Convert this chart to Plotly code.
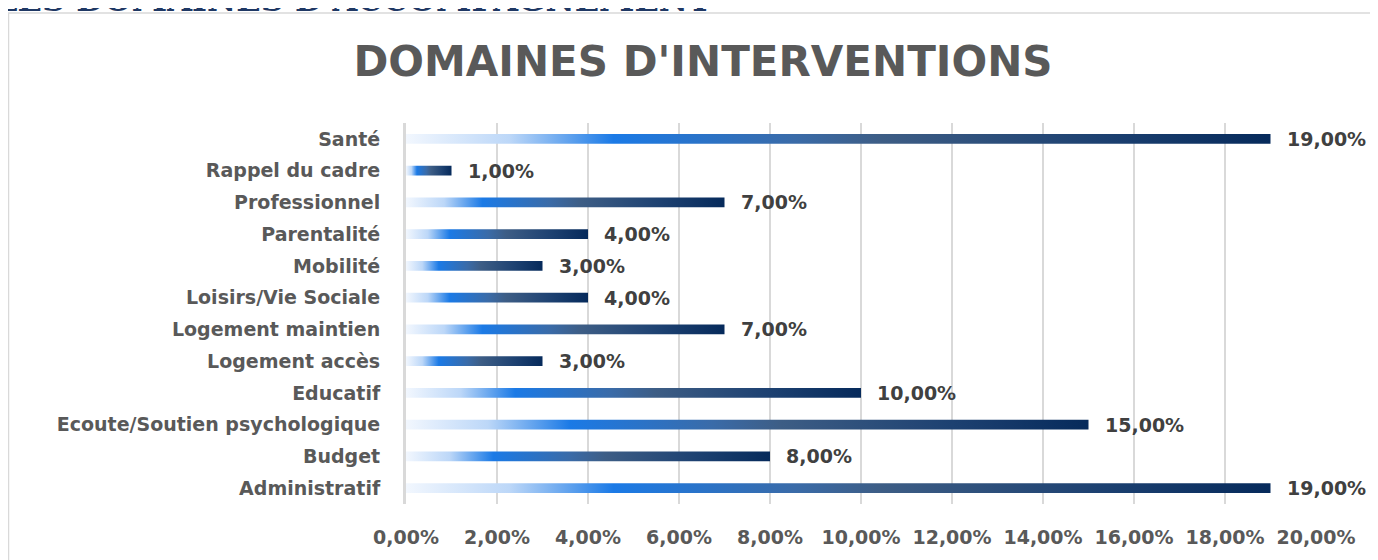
import plotly.graph_objects as go

# ---- data (bottom to top, as drawn) ----
categories = ["Administratif", "Budget", "Ecoute/Soutien psychologique", "Educatif",
              "Logement accès", "Logement maintien", "Loisirs/Vie Sociale", "Mobilité",
              "Parentalité", "Professionnel", "Rappel du cadre", "Santé"]
values = [19, 8, 15, 10, 3, 7, 4, 3, 4, 7, 1, 19]  # percent
x_ticks = [0, 2, 4, 6, 8, 10, 12, 14, 16, 18, 20]

title_text = "DOMAINES D'INTERVENTIONS"
header_text = "LES DOMAINES D'ACCOMPAGNEMENT"

# page has an 8px body margin -> figure is 8px smaller and shifted
OFF = 8
W, H = 1378 - OFF, 560 - OFF
L, R, T, B = 406 - OFF, 1378 - 1316, 123 - OFF, 560 - 506
FONT = "DejaVu Sans"
GREY = "#595959"

gradient = [[0.0, "#f2f7fe"], [0.12, "#bcd7f8"], [0.24, "#1b7ae6"],
            [0.45, "#3a6ba8"], [0.55, "#3d5d85"], [0.8, "#1d4171"], [1.0, "#062a5b"]]

fig = go.Figure()
half = 0.155
for i, (cat, v) in enumerate(zip(categories, values)):
    fig.add_trace(go.Scatter(
        x=[0, v, v, 0, 0],
        y=[i - half, i - half, i + half, i + half, i - half],
        mode="lines", fill="toself",
        line=dict(width=0),
        fillgradient=dict(type="horizontal", colorscale=gradient),
        hoverinfo="skip", showlegend=False, name=cat,
    ))
    fig.add_annotation(
        x=v, y=i, xref="x", yref="y", xanchor="left", yanchor="middle",
        xshift=14, showarrow=False,
        text=f"{v:.2f}%".replace(".", ","),
        font=dict(family=FONT, size=19, color="#404040", weight="bold"),
    )

pw = W - L - R
ph = H - T - B

def px_x(p):
    return (p - OFF - L) / pw

def px_y(p):
    return (H - B - (p - OFF)) / ph

# chart frame (light border, open to right/bottom edges)
fig.add_shape(type="rect", xref="paper", yref="paper",
              x0=px_x(8.5), x1=px_x(1378 + 20), y0=px_y(560 + 20), y1=px_y(12.5),
              line=dict(color="#d9d9d9", width=1.5), fillcolor="rgba(0,0,0,0)", layer="below")

# cut-off page header (only its lower edge is visible, as in the source)
fig.add_annotation(xref="paper", yref="paper", x=px_x(-7), y=px_y(20),
                   xanchor="left", yanchor="bottom", showarrow=False,
                   text=f"<b>{header_text}</b>",
                   font=dict(family="DejaVu Serif", size=32, color="#1f3864"))

fig.update_layout(
    width=W, height=H,
    margin=dict(l=L, r=R, t=T, b=B),
    paper_bgcolor="white", plot_bgcolor="white",
    separators=", ",
    title=dict(text=title_text, xref="container", yref="container",
               x=(703 - OFF) / W, xanchor="center", y=1 - (61 - OFF) / H,
               yanchor="middle",
               font=dict(family=FONT, size=42, color=GREY, weight="bold")),
    xaxis=dict(range=[0, 20], tickvals=x_ticks,
               ticktext=[f"{t:.2f}%".replace(".", ",") for t in x_ticks],
               showgrid=True, gridcolor="#d9d9d9", gridwidth=1.5,
               zeroline=False, showline=False, ticks="",
               tickfont=dict(family=FONT, size=19, color=GREY, weight="bold"),
               ticklabelstandoff=20),
    yaxis=dict(range=[-0.5, 11.5], tickvals=list(range(len(categories))),
               ticktext=categories, showgrid=False, zeroline=False,
               showline=True, linecolor="#d9d9d9", linewidth=3,
               ticks="", ticklabelstandoff=19,
               tickfont=dict(family=FONT, size=19, color=GREY, weight="bold")),
)

fig.write_html("out.html")
